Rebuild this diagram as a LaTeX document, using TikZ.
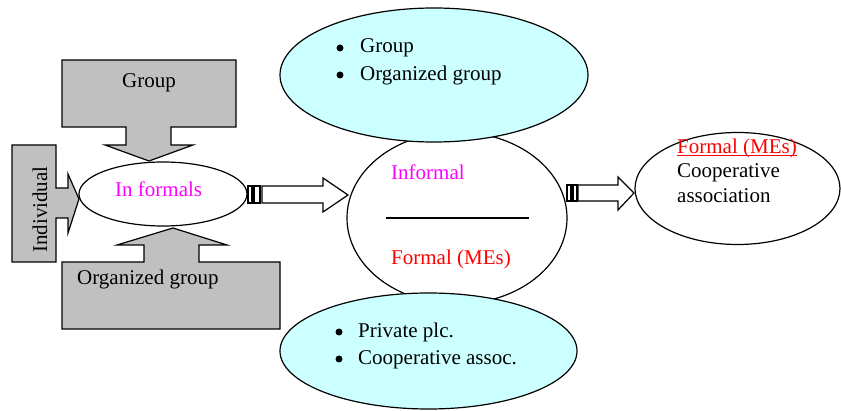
\documentclass[tikz,border=0pt]{standalone}
\usepackage{fontspec}
\setmainfont{Liberation Serif}
\usetikzlibrary{shapes.geometric}
\definecolor{boxgray}{HTML}{C0C0C0}
\definecolor{lightcyan}{HTML}{CCFFFF}
\definecolor{mag}{HTML}{FF00FF}
\definecolor{redtxt}{HTML}{FF0000}
\tikzset{
  lw/.style={line width=1.2pt},
  callout/.style={lw, draw=black, fill=boxgray, line join=miter},
  blockarrow/.style={lw, draw=black, fill=white, line join=miter},
  stripe/.style={lw, draw=black, fill=white},
  oval/.style={lw, draw=black, ellipse, inner sep=0pt},
  txt/.style={font=\fontsize{21}{25}\selectfont, inner sep=0pt, anchor=base west},
  bul/.style={circle, fill=black, inner sep=0pt, minimum size=7pt},
}
\begin{document}
\begin{tikzpicture}[x=1pt,y=-1pt]
\useasboundingbox (0,0) rectangle (841,411);

% Group callout (down arrow)
\draw[callout] (62,60) -- (236,60) -- (236,127) -- (171,127) -- (171,145) -- (193,145)
  -- (149,161) -- (105,145) -- (126,145) -- (126,127) -- (62,127) -- cycle;
% Individual callout (right arrow)
\draw[callout] (12,145) -- (56,145) -- (56,188) -- (68,188) -- (68,174) -- (79,199)
  -- (68,233) -- (68,218) -- (56,218) -- (56,262) -- (12,262) -- cycle;
% Organized group callout (up arrow)
\draw[callout] (62,262) -- (144,262) -- (144,245) -- (117,245) -- (173,228) -- (227,245)
  -- (199,245) -- (199,262) -- (280,262) -- (280,329) -- (62,329) -- cycle;

\node[txt] (tgroup) at (122,88) {Group};
\node[txt] (torg) at (77,285) {Organized group};
\node[txt, rotate=90] (tind) at (47,253) {Individual};

% In formals ellipse
\node[oval, fill=white, minimum width=168pt, minimum height=64pt] (inf) at (163,194) {};
\node[txt, text=mag] (tinf) at (115,197) {In formals};

% Arrow 1 (striped)
\draw[stripe] (248,186) rectangle (252,203);
\draw[stripe] (254,186) rectangle (260,203);
\draw[blockarrow] (262,186) -- (323,186) -- (323,178) -- (348,195) -- (323,212)
  -- (323,203) -- (262,203) -- cycle;

% Center ellipse
\node[oval, fill=white, minimum width=220pt, minimum height=172pt] (center) at (457,218) {};
\draw[lw] (386,218) -- (529,218);
\node[txt, text=mag] (tinformal) at (391,180) {Informal};
\node[txt, text=redtxt] (tformal) at (391,265) {Formal (MEs)};

% Top cyan ellipse
\node[oval, fill=lightcyan, minimum width=308pt, minimum height=134pt] (top) at (434,75) {};
\node[bul] (b1) at (340,48) {};
\node[txt] (t1) at (360,53) {Group};
\node[bul] (b2) at (340,75) {};
\node[txt] (t2) at (360,81) {Organized group};

% Bottom cyan ellipse
\node[oval, fill=lightcyan, minimum width=297pt, minimum height=116pt] (bottom) at (428.5,351) {};
\node[bul] (b3) at (339,332) {};
\node[txt] (t3) at (358,338) {Private plc.};
\node[bul] (b4) at (339,359) {};
\node[txt] (t4) at (358,365) {Cooperative assoc.};

% Arrow 2 (striped)
\draw[stripe] (567,185) rectangle (571,201);
\draw[stripe] (573,185) rectangle (577,201);
\draw[blockarrow] (578,185) -- (618,185) -- (618,177) -- (634,193) -- (618,210)
  -- (618,201) -- (578,201) -- cycle;

% Right ellipse
\node[oval, fill=white, minimum width=205pt, minimum height=112pt] (right) at (737.5,188.5) {};
\node[txt, text=redtxt] (r1) at (677,154) {Formal (MEs)};
\draw[redtxt, line width=1pt] ([yshift=-2pt]r1.base west) -- ([yshift=-2pt]r1.base east);
\node[txt] (r2) at (677,178) {Cooperative};
\node[txt] (r3) at (677,203) {association};
\end{tikzpicture}
\end{document}
